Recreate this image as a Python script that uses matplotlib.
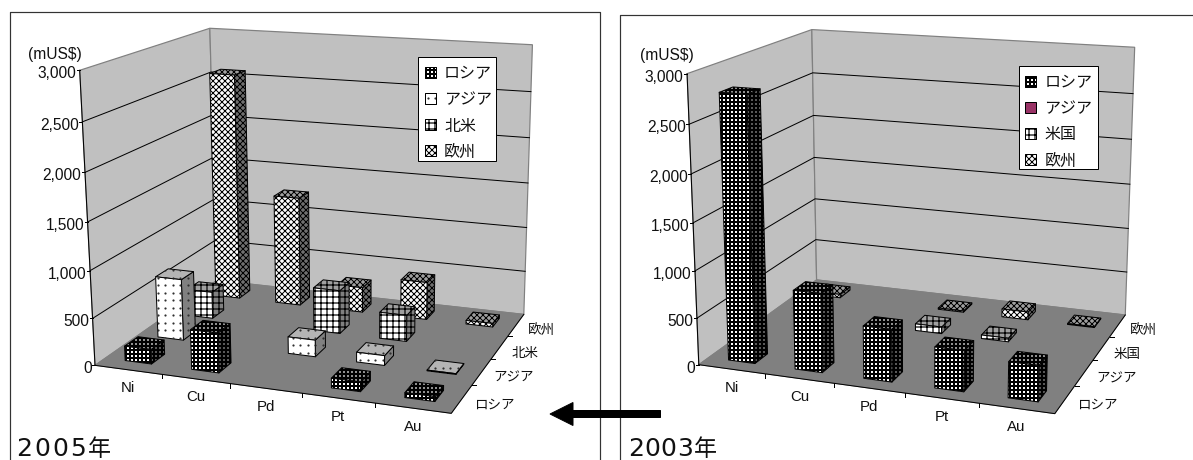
import numpy as np
import matplotlib
matplotlib.use("Agg")
import matplotlib.pyplot as plt
from matplotlib.patches import Polygon, Rectangle

LATIN = "Liberation Sans"
CJK = ["Noto Sans CJK JP", "DejaVu Sans"]

categories = ["Ni", "Cu", "Pd", "Pt", "Au"]
series_2005 = ["ロシア", "アジア", "北米", "欧州"]
series_2003 = ["ロシア", "アジア", "米国", "欧州"]
value_ticks = [0, 500, 1000, 1500, 2000, 2500, 3000]

# export value, mUS$ (0 = no bar)
russia_2005 = [155, 420, 0, 100, 50]
asia_2005 = [670, 0, 180, 105, 8]
namerica_2005 = [300, 0, 480, 290, 0]
europe_2005 = [2580, 1245, 285, 425, 40]

russia_2003 = [2790, 835, 550, 425, 370]
asia_2003 = [0, 0, 0, 0, 0]
usa_2003 = [0, 0, 75, 40, 0]
europe_2003 = [40, 0, 15, 90, 10]

# box corners of each 3D panel on the page: (category, series, value) -> (px, py)
corners_world = [(0, 0, 0), (0, 0, 3000), (0, 4, 0), (0, 4, 3000),
                 (5, 4, 0), (5, 4, 3000), (5, 0, 0)]
corners_2005 = [(93, 364), (81.5, 70.7), (219, 281.7), (207.8, 27.7),
                (523, 313.3), (533, 45), (451.6, 414.3)]
corners_2003 = [(699, 365), (687.7, 72.7), (816.7, 280), (811, 30),
                (1125.7, 314), (1135, 47.7), (1053.9, 414.3)]

BAR_W = 0.40
BAR_D = 0.40
WALL = "#c0c0c0"
FLOOR = "#808080"

STYLES = [
    {"hatch": "+++", "lw": 2.0, "top": "#909090", "side": "#585858"},
    {"hatch": None, "lw": 1.0, "top": "#b4b4b4", "side": "#808080"},
    {"hatch": "++", "lw": 1.2, "top": "#a0a0a0", "side": "#808080"},
    {"hatch": "xxxx", "lw": 1.0, "top": "#a0a0a0", "side": "#707070"},
]


def fit_projection(world, pixel):
    """Least squares camera matrix from world/pixel point pairs."""
    rows = []
    for (x, y, z), (u, v) in zip(world, pixel):
        z = z / 1000.0
        rows.append([x, y, z, 1, 0, 0, 0, 0, -u * x, -u * y, -u * z, -u])
        rows.append([0, 0, 0, 0, x, y, z, 1, -v * x, -v * y, -v * z, -v])
    _, _, vt = np.linalg.svd(np.array(rows, dtype=float))
    return vt[-1].reshape(3, 4)


def project(cam, x, y, z):
    p = cam @ np.array([x, y, z / 1000.0, 1.0])
    return p[0] / p[2], p[1] / p[2]


def add_face(ax, pts, fc, style, zorder):
    plt.rcParams["hatch.linewidth"] = style["lw"]
    face = Polygon(pts, closed=True, facecolor=fc, edgecolor="black", lw=1.0,
                   hatch=style["hatch"], zorder=zorder, joinstyle="round")
    ax.add_patch(face)
    if style["hatch"] is None:
        # dotted fill stays aligned to the page, like an Excel pattern
        arr = np.array(pts)
        xs = np.arange(np.floor(arr[:, 0].min() / 7.5), np.ceil(arr[:, 0].max() / 7.5) + 1) * 7.5
        ys = np.arange(np.floor(arr[:, 1].min() / 7.5), np.ceil(arr[:, 1].max() / 7.5) + 1) * 7.5
        gx, gy = np.meshgrid(xs, ys)
        dots, = ax.plot(gx.ravel(), gy.ravel(), ls="", marker="o", ms=2.2, mew=0,
                        color="#303030", zorder=zorder + 0.1)
        dots.set_clip_path(face)


def draw_bar(ax, cam, i, j, value, style, zorder):
    x0, x1 = i + 0.5 - BAR_W / 2, i + 0.5 + BAR_W / 2
    y0, y1 = j + 0.5 - BAR_D / 2, j + 0.5 + BAR_D / 2
    front = [project(cam, x0, y0, 0), project(cam, x1, y0, 0),
             project(cam, x1, y0, value), project(cam, x0, y0, value)]
    side = [project(cam, x1, y0, 0), project(cam, x1, y1, 0),
            project(cam, x1, y1, value), project(cam, x1, y0, value)]
    top = [project(cam, x0, y0, value), project(cam, x1, y0, value),
           project(cam, x1, y1, value), project(cam, x0, y1, value)]
    add_face(ax, side, style["side"], style, zorder)
    add_face(ax, top, style["top"], style, zorder + 0.2)
    add_face(ax, front, "white", style, zorder + 0.4)


def draw_legend(ax, box, names, swatch_x, text_x, rows, plum=False):
    ax.add_patch(Rectangle((box[0], box[1]), box[2] - box[0], box[3] - box[1],
                           fc="white", ec="black", lw=1.0, zorder=500))
    for k, name in enumerate(names):
        style = STYLES[k]
        cy = rows[k]
        pts = [(swatch_x, cy - 5.5), (swatch_x + 11, cy - 5.5),
               (swatch_x + 11, cy + 5.5), (swatch_x, cy + 5.5)]
        if k == 1 and plum:
            ax.add_patch(Polygon(pts, fc="#993366", ec="black", lw=1.0, zorder=501))
        else:
            add_face(ax, pts, "white", style, 501)
        ax.text(text_x, cy, name, family=CJK, fontsize=16, ha="left", va="center_baseline",
                color="#111111", zorder=502)


def draw_year(ax, year, x, y, advance):
    # digits sit on a wider pitch than the font's own
    for k, ch in enumerate(year[:-1]):
        ax.text(x + k * advance, y, ch, family="DejaVu Sans", fontsize=25, ha="left",
                va="baseline", color="#111111", zorder=600)
    ax.text(x + len(year[:-1]) * advance, y, year[-1], family=CJK, fontsize=23, ha="left",
            va="baseline", color="#111111", zorder=600)


def draw_panel(ax, corners, names, table, legend_box, swatch_x, text_x, legend_rows,
               unit_xy, year, year_xy, year_advance, plum=False):
    cam = fit_projection(corners_world, corners)
    n_cat, n_ser = len(categories), len(names)

    # walls and floor
    a, b = project(cam, 0, 0, 0), project(cam, 0, 0, 3000)
    c, d = project(cam, 0, n_ser, 0), project(cam, 0, n_ser, 3000)
    e, f = project(cam, n_cat, n_ser, 0), project(cam, n_cat, n_ser, 3000)
    g = project(cam, n_cat, 0, 0)
    ax.add_patch(Polygon([a, b, d, c], fc=WALL, ec=FLOOR, lw=1.2, zorder=1))
    ax.add_patch(Polygon([c, d, f, e], fc=WALL, ec=FLOOR, lw=1.2, zorder=1))
    ax.add_patch(Polygon([a, c, e, g], fc=FLOOR, ec=FLOOR, lw=1.0, zorder=2))

    # gridlines run along the side wall and the back wall
    for v in value_ticks[1:-1]:
        p0, p1, p2 = project(cam, 0, 0, v), project(cam, 0, n_ser, v), project(cam, n_cat, n_ser, v)
        ax.plot([p0[0], p1[0], p2[0]], [p0[1], p1[1], p2[1]], color="black", lw=1.0, zorder=3)

    # axes and tick marks
    ax.plot([a[0], b[0]], [a[1], b[1]], color="black", lw=1.0, zorder=4)
    ax.plot([a[0], g[0], e[0]], [a[1], g[1], e[1]], color="black", lw=1.0, zorder=4)
    for v in value_ticks:
        px, py = project(cam, 0, 0, v)
        ax.plot([px - 3, px], [py, py], color="black", lw=1.0, zorder=4)
        ax.text(px - 3.5, py + 2, f"{v:,}", family=LATIN, fontsize=15.5, ha="right",
                va="center_baseline", color="#111111")
    for i in range(1, n_cat):
        px, py = project(cam, i, 0, 0)
        ax.plot([px, px], [py, py + 4], color="black", lw=1.0, zorder=4)
    for i, name in enumerate(categories):
        px, py = project(cam, i + 0.5, 0, 0)
        ax.text(px, py + 17, name, family=LATIN, fontsize=15, ha="center",
                va="center_baseline", color="#111111")
    for j in range(1, n_ser):
        px, py = project(cam, n_cat, j, 0)
        ax.plot([px, px + 4], [py, py], color="black", lw=1.0, zorder=4)
    for j, name in enumerate(names):
        px, py = project(cam, n_cat, j + 0.5, 0)
        ax.text(px + 12, py + 4, name, family=CJK, fontsize=13.5, ha="left",
                va="center_baseline", color="#111111")

    ax.text(unit_xy[0], unit_xy[1], "(mUS$)", family=LATIN, fontsize=15.5, ha="center",
            va="center_baseline", color="#111111")

    # back row first, left to right inside a row, so nearer bars overlap
    zorder = 10
    for j in range(n_ser - 1, -1, -1):
        for i in range(n_cat):
            zorder += 1
            if table[j][i] > 0:
                draw_bar(ax, cam, i, j, table[j][i], STYLES[j], zorder)

    draw_legend(ax, legend_box, names, swatch_x, text_x, legend_rows, plum)
    draw_year(ax, year, year_xy[0], year_xy[1], year_advance)


fig = plt.figure(figsize=(1193 / 72, 460 / 72), dpi=72, facecolor="white")
ax = fig.add_axes([0, 0, 1, 1])
ax.set_xlim(0, 1193)
ax.set_ylim(460, 0)
ax.axis("off")

# outer frames, open at the bottom
ax.plot([10, 10, 600, 600], [460, 12, 12, 460], color="#333333", lw=1.2)
ax.plot([620, 620, 1193], [460, 15, 15], color="#333333", lw=1.2)

draw_panel(ax, corners_2005, series_2005,
           [russia_2005, asia_2005, namerica_2005, europe_2005],
           (418, 57.3, 496.4, 160.7), 425, 444, [72, 98, 124, 150],
           (54.7, 52.7), "2005年", (16, 456.5), 18)
draw_panel(ax, corners_2003, series_2003,
           [russia_2003, asia_2003, usa_2003, europe_2003],
           (1019, 66, 1097.5, 169.3), 1025, 1044.4, [81, 107, 133, 159],
           (667, 54.3), "2003年", (628, 456), 16.4, plum=True)

# arrow from the 2003 panel to the 2005 panel
ax.arrow(660.5, 414, -110.5, 0, width=7, head_width=23, head_length=23,
         length_includes_head=True, fc="black", ec="black", zorder=700)

fig.savefig("out.png", dpi=72, facecolor="white")
